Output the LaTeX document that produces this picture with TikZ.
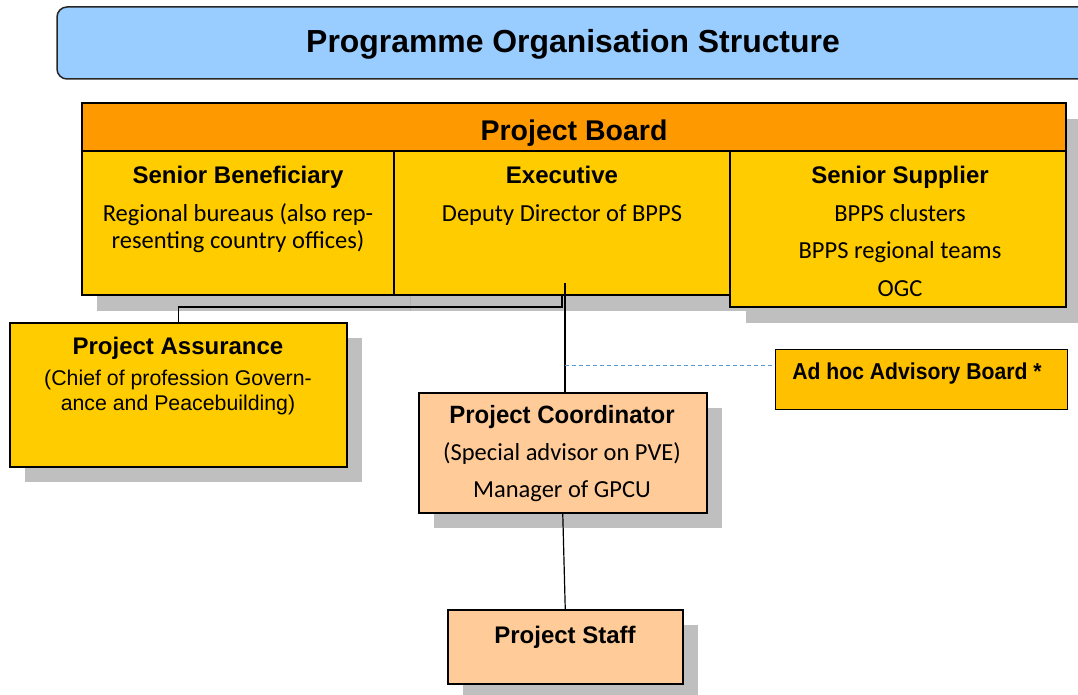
\documentclass[tikz,border=0pt]{standalone}
\usepackage{fontspec}
\setmainfont{Liberation Sans}
\newfontfamily\calib{Carlito}
\newfontfamily\narrowbf[FakeStretch=0.92]{Liberation Sans Bold}
\newfontfamily\coordbf[FakeStretch=0.96]{Liberation Sans Bold}
\definecolor{titleblue}{HTML}{99CCFF}
\definecolor{boardorange}{HTML}{FF9900}
\definecolor{roleyellow}{HTML}{FFCC00}
\definecolor{advisoryyellow}{HTML}{FFC000}
\definecolor{peach}{HTML}{FFCC99}
\definecolor{shadowgray}{HTML}{BFBFBF}
\definecolor{dashblue}{HTML}{5B9BD5}
\tikzset{
  box/.style={draw=black, line width=1.5pt},
  txt/.style={inner sep=0pt, anchor=base},
  head/.style={txt, font=\bfseries\fontsize{24}{28}\selectfont},
  calibtext/.style={txt, font=\calib\fontsize{24.5}{28}\selectfont},
  ariatext/.style={txt, font=\fontsize{21.3}{25}\selectfont},
  link/.style={draw=black, line width=1.2pt},
}
\begin{document}
\begin{tikzpicture}[x=1pt, y=-1pt]
\useasboundingbox (0,0) rectangle (1078,695);

% title banner
\draw[fill=titleblue, draw=black!85, line width=1.5pt, rounded corners=10pt] (57,7) rectangle (1100,79);
\node[txt, font=\bfseries\fontsize{31.9}{36}\selectfont] (title) at (573,53) {Programme Organisation Structure};

% drop shadows
\fill[shadowgray] (97,119) rectangle (1082,167);
\fill[shadowgray] (97,167) rectangle (746,311);
\fill[shadowgray] (746,167) rectangle (1082,323);
\draw[black!30, line width=0.8pt] (410,295) -- (410,311);
\fill[shadowgray] (25,338) rectangle (362,482);
\fill[shadowgray] (434,408) rectangle (722,528);
\fill[shadowgray] (463,625) rectangle (698,699);

% project board
\draw[box, fill=boardorange] (82,103) rectangle (1066,151);
\node[txt, font=\bfseries\fontsize{28.5}{32}\selectfont] (board) at (574,141) {Project Board};

\draw[box, fill=roleyellow] (82,151) rectangle (394,295);
\node[inner sep=0pt, minimum width=312pt, minimum height=144pt, anchor=north west] (benef) at (82,151) {};
\node[head] (benefT) at (238,184) {Senior Beneficiary};
\node[calibtext] (benefL1) at (238,221) {Regional bureaus (also rep-};
\node[calibtext] (benefL2) at (238,248) {resenting country offices)};

\draw[box, fill=roleyellow] (394,151) rectangle (730,295);
\node[inner sep=0pt, minimum width=336pt, minimum height=144pt, anchor=north west] (exec) at (394,151) {};
\node[head] (execT) at (562,184) {Executive};
\node[calibtext] (execL1) at (562,221) {Deputy Director of BPPS};

\draw[box, fill=roleyellow] (730,151) rectangle (1066,307);
\node[inner sep=0pt, minimum width=336pt, minimum height=156pt, anchor=north west] (supp) at (730,151) {};
\node[head] (suppT) at (900,184) {Senior Supplier};
\node[calibtext] (suppL1) at (900,221) {BPPS clusters};
\node[calibtext] (suppL2) at (900,258) {BPPS regional teams};
\node[calibtext] (suppL3) at (900,296) {OGC};

% project assurance
\node[box, fill=roleyellow, inner sep=0pt, minimum width=337pt, minimum height=144pt, anchor=north west] (assur) at (9,322) {};
\node[head] (assurT) at (178,354) {Project Assurance};
\node[ariatext] (assurL1) at (178,385) {(Chief of profession Govern-};
\node[ariatext] (assurL2) at (178,410) {ance and Peacebuilding)};

% advisory board
\node[draw=black, line width=1.2pt, fill=advisoryyellow, inner sep=0pt, minimum width=292pt, minimum height=60pt, anchor=north west] (adhoc) at (775,349) {};
\node[txt, font=\narrowbf\fontsize{23}{26}\selectfont] (adhocT) at (917,379) {Ad hoc Advisory Board *};

% project coordinator
\node[box, fill=peach, inner sep=0pt, minimum width=288pt, minimum height=120pt, anchor=north west] (coord) at (418,392) {};
\node[txt, font=\coordbf\fontsize{25}{28}\selectfont] (coordT) at (562,423) {Project Coordinator};
\node[calibtext] (coordL1) at (562,460) {(Special advisor on PVE)};
\node[calibtext] (coordL2) at (562,497) {Manager of GPCU};

% project staff
\node[box, fill=peach, inner sep=0pt, minimum width=235pt, minimum height=74pt, anchor=north west] (staff) at (447,609) {};
\node[head] (staffT) at (565,643) {Project Staff};

% connectors
\coordinate (execFoot) at (562,295);
\coordinate (execLine) at (565,283);
\coordinate (advisoryTap) at (565,365);
\draw[link] (execFoot) -- ++(0,12) -| (assur.north);
\draw[link] (execLine) -- (execLine |- coord.north);
\draw[dashblue, line width=1pt, dash pattern=on 4pt off 3pt] (advisoryTap) -- (advisoryTap -| adhoc.west);
\draw[link] (coord.south) -- (staff.north);
\end{tikzpicture}
\end{document}
